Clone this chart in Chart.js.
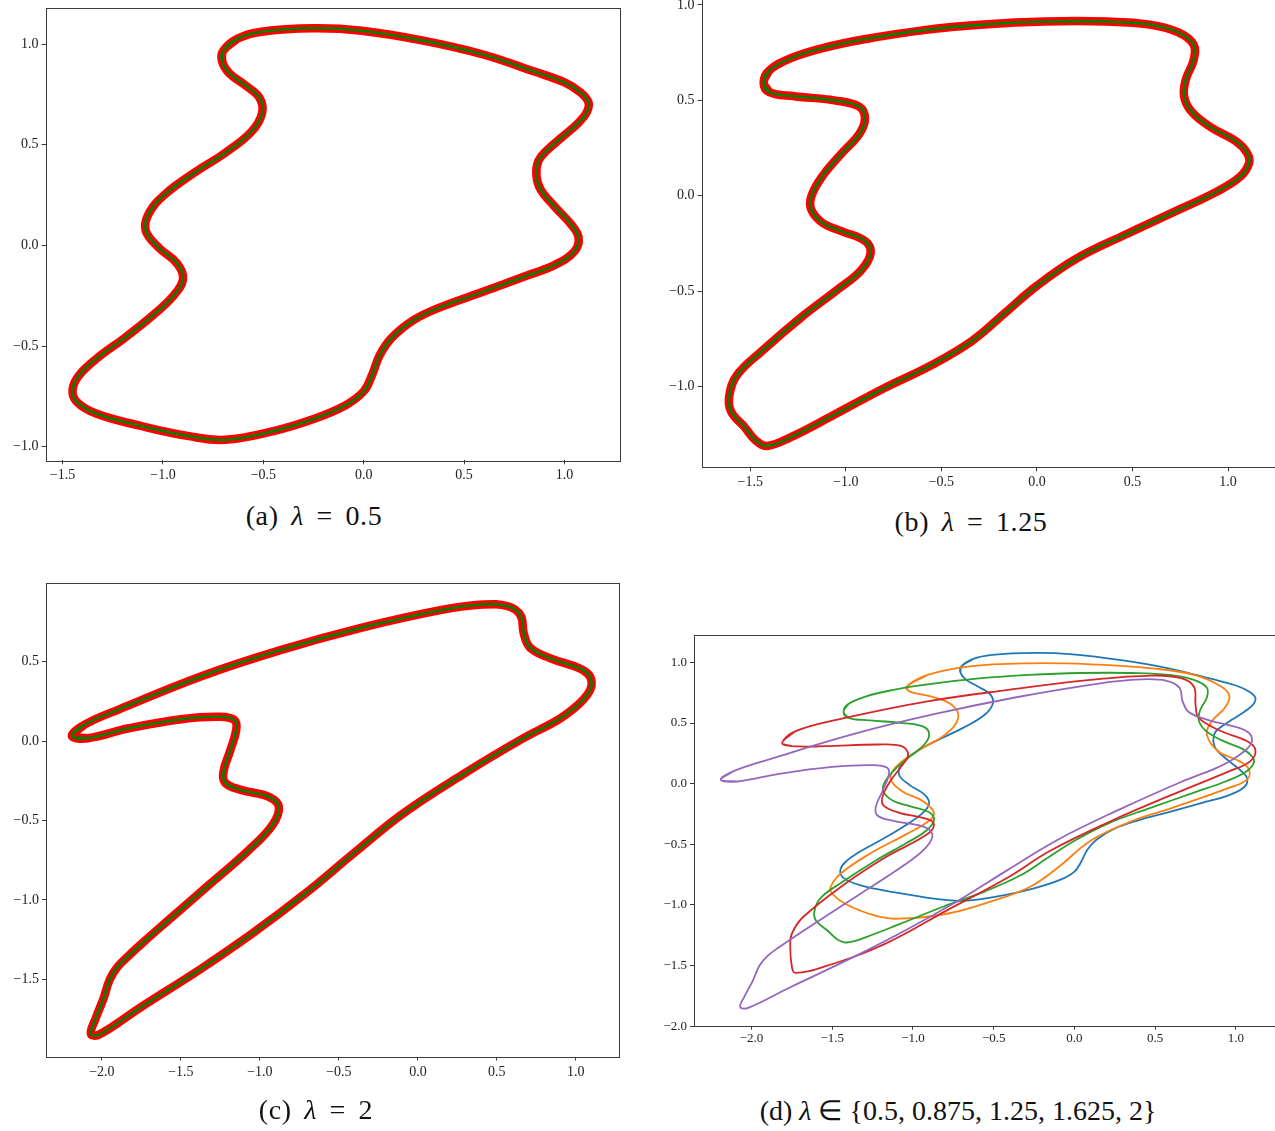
<!DOCTYPE html>
<html><head><meta charset="utf-8">
<script src="https://cdn.jsdelivr.net/npm/chart.js@4.4.1/dist/chart.umd.min.js"></script>
<style>
html,body{margin:0;padding:0;background:#fff;width:1275px;height:1131px;overflow:hidden;position:relative}
canvas{position:absolute}
.cap{position:absolute;font-family:'Liberation Serif',serif;font-size:28px;color:#111;white-space:nowrap;transform:translate(-50%,-50%)}
.w{word-spacing:5px;letter-spacing:0.6px}
</style></head><body>
<canvas id="ca" width="640" height="505" style="left:0px;top:-10px"></canvas>
<canvas id="cb" width="660" height="530" style="left:640px;top:-30px"></canvas>
<canvas id="cc" width="640" height="535" style="left:0px;top:560px"></canvas>
<canvas id="cd" width="660" height="450" style="left:640px;top:610px"></canvas>
<div class="cap w" style="left:314px;top:516px">(a) <i>λ</i> = 0.5</div>
<div class="cap w" style="left:971px;top:522px">(b) <i>λ</i> = 1.25</div>
<div class="cap w" style="left:316px;top:1110px">(c) <i>λ</i> = 2</div>
<div class="cap" style="left:958px;top:1110px">(d) <i>λ</i> ∈ {0.5, 0.875, 1.25, 1.625, 2}</div>
<script>
// ---- curve λ = 0.5 ----
const lam050_x = [-0.70,-0.63,-0.51,-0.25,-0.01,0.29,0.59,0.85,1.00,1.08,1.12,1.11,1.07,0.99,0.91,0.87,0.86,0.88,0.95,1.03,1.07,1.05,0.95,0.79,0.59,0.39,0.25,0.14,0.08,0.04,0.00,-0.09,-0.25,-0.45,-0.69,-0.87,-1.11,-1.33,-1.43,-1.45,-1.42,-1.33,-1.19,-1.05,-0.95,-0.90,-0.93,-1.02,-1.086,-1.07,-0.99,-0.85,-0.69,-0.56,-0.506,-0.52,-0.59,-0.67,-0.706];
const lam050_y = [0.967,1.027,1.062,1.079,1.067,1.019,0.950,0.864,0.81,0.76,0.71,0.66,0.61,0.54,0.47,0.42,0.35,0.280,0.194,0.108,0.040,-0.029,-0.098,-0.158,-0.232,-0.304,-0.37,-0.459,-0.545,-0.648,-0.725,-0.794,-0.863,-0.923,-0.966,-0.948,-0.897,-0.837,-0.777,-0.717,-0.648,-0.562,-0.459,-0.347,-0.253,-0.167,-0.089,-0.012,0.074,0.160,0.254,0.357,0.460,0.564,0.658,0.735,0.796,0.856,0.916];
// ---- curve λ = 0.875 ----
const lam0875_x = [-1.04,-0.91,-0.66,-0.28,0.10,0.48,0.74,0.91,0.96,0.93,0.85,0.82,0.89,1.02,1.08,1.07,0.96,0.61,0.36,0.10,-0.10,-0.28,-0.53,-0.79,-1.09,-1.24,-1.42,-1.50,-1.51,-1.45,-1.27,-1.04,-0.90,-0.87,-0.94,-1.07,-1.14,-1.09,-0.94,-0.80,-0.72,-0.76,-0.89,-1.02];
const lam0875_y = [0.80,0.897,0.966,0.993,0.985,0.952,0.897,0.80,0.72,0.624,0.514,0.405,0.268,0.186,0.118,0.036,-0.033,-0.197,-0.306,-0.47,-0.689,-0.854,-0.977,-1.073,-1.114,-1.086,-0.99,-0.908,-0.854,-0.744,-0.58,-0.416,-0.306,-0.238,-0.142,-0.06,0.049,0.159,0.295,0.405,0.542,0.651,0.72,0.76];
// ---- curve λ = 1.25 ----
const lam125_x = [-1.43,-1.40,-1.29,-1.12,-0.91,-0.59,-0.28,0.04,0.36,0.59,0.74,0.82,0.82,0.78,0.77,0.81,0.91,1.04,1.10,1.11,1.06,0.93,0.74,0.47,0.21,0.00,-0.17,-0.34,-0.55,-0.81,-1.08,-1.29,-1.41,-1.47,-1.53,-1.60,-1.61,-1.57,-1.44,-1.23,-1.04,-0.92,-0.87,-0.90,-1.02,-1.12,-1.18,-1.18,-1.12,-1.02,-0.93,-0.90,-0.93,-1.06,-1.27,-1.40];
const lam125_y = [0.594,0.657,0.720,0.774,0.819,0.868,0.897,0.913,0.913,0.897,0.856,0.792,0.711,0.612,0.522,0.440,0.359,0.287,0.224,0.170,0.097,0.016,-0.074,-0.200,-0.327,-0.471,-0.616,-0.760,-0.886,-1.013,-1.157,-1.265,-1.310,-1.283,-1.211,-1.130,-1.049,-0.940,-0.814,-0.634,-0.489,-0.390,-0.300,-0.236,-0.186,-0.143,-0.074,-0.002,0.106,0.224,0.323,0.404,0.467,0.500,0.522,0.543];
// ---- curve λ = 1.625 ----
const lam1625_x = [-1.81,-1.73,-1.42,-0.91,-0.41,0.10,0.48,0.66,0.74,0.75,0.77,0.91,1.07,1.12,1.09,0.96,0.61,0.23,-0.15,-0.41,-0.79,-1.17,-1.55,-1.73,-1.75,-1.76,-1.75,-1.68,-1.42,-1.17,-0.91,-0.87,-0.91,-1.09,-1.18,-1.19,-1.14,-1.07,-1.03,-1.07,-1.22,-1.55,-1.75];
const lam1625_y = [0.337,0.432,0.542,0.679,0.774,0.856,0.892,0.87,0.80,0.651,0.542,0.432,0.35,0.282,0.186,0.104,-0.088,-0.306,-0.553,-0.772,-1.045,-1.319,-1.51,-1.56,-1.51,-1.346,-1.237,-1.10,-0.826,-0.607,-0.416,-0.334,-0.293,-0.238,-0.183,-0.115,0.022,0.145,0.241,0.309,0.323,0.309,0.309];
// ---- curve λ = 2 ----
const lam200_x = [-2.19,-2.11,-1.88,-1.37,-0.87,-0.36,0.15,0.41,0.57,0.65,0.67,0.71,0.84,1.02,1.08,1.10,1.09,1.05,0.98,0.88,0.66,0.28,-0.10,-0.41,-0.71,-1.04,-1.37,-1.76,-2.02,-2.07,-2.04,-1.99,-1.95,-1.90,-1.83,-1.72,-1.58,-1.32,-1.07,-0.92,-0.88,-0.94,-1.12,-1.22,-1.23,-1.19,-1.15,-1.16,-1.25,-1.50,-1.83,-2.09];
const lam200_y = [0.032,0.104,0.205,0.409,0.573,0.713,0.826,0.860,0.849,0.792,0.679,0.589,0.521,0.460,0.42,0.37,0.32,0.265,0.20,0.13,0.014,-0.212,-0.460,-0.709,-0.957,-1.205,-1.431,-1.679,-1.849,-1.842,-1.747,-1.62,-1.50,-1.42,-1.35,-1.25,-1.128,-0.903,-0.686,-0.528,-0.415,-0.352,-0.307,-0.262,-0.190,-0.065,0.070,0.131,0.153,0.138,0.081,0.018];

// ---- tick labels ----
const ticksA_x = [-1.5,-1.0,-0.5,0.0,0.5,1.0];
const ticksA_y = [-1.0,-0.5,0.0,0.5,1.0];
const ticksB_x = [-1.5,-1.0,-0.5,0.0,0.5,1.0];
const ticksB_y = [-1.0,-0.5,0.0,0.5,1.0];
const ticksC_x = [-2.0,-1.5,-1.0,-0.5,0.0,0.5,1.0];
const ticksC_y = [-1.5,-1.0,-0.5,0.0,0.5];
const ticksD_x = [-2.0,-1.5,-1.0,-0.5,0.0,0.5,1.0];
const ticksD_y = [-2.0,-1.5,-1.0,-0.5,0.0,0.5,1.0];

function closed(xs, ys){
  const n = xs.length;
  const pts = [];
  pts.push({x: xs[n-1], y: ys[n-1]});
  for (let i = 0; i < n; i++) pts.push({x: xs[i], y: ys[i]});
  pts.push({x: xs[0], y: ys[0]});
  pts.push({x: xs[1], y: ys[1]});
  return pts;
}
function fmt(v){ return (v < 0 ? '\u2212' : '') + Math.abs(v).toFixed(1); }

const frame = {
  id: 'frame',
  afterDraw(chart){
    const a = chart.chartArea, c = chart.ctx;
    c.save(); c.strokeStyle = '#3a3a3a'; c.lineWidth = 1;
    c.strokeRect(Math.round(a.left)+0.5, Math.round(a.top)+0.5, Math.round(a.right-a.left), Math.round(a.bottom-a.top));
    c.restore();
  }
};

function axis(min, max, ticks, isY, size, fs, pad){
  return {
    type: 'linear', min: min, max: max,
    afterBuildTicks: ax => { ax.ticks = ticks.map(v => ({value: v})); },
    afterFit: ax => { if (isY) ax.width = size; else ax.height = size; },
    grid: {display: true, drawOnChartArea: false, drawTicks: true, tickLength: 4, color: '#3a3a3a'},
    border: {display: false},
    ticks: {color: '#222', padding: pad, font: {family: 'Liberation Serif', size: fs}, callback: v => fmt(v), maxRotation: 0, autoSkip: false}
  };
}

function make(id, datasets, xr, yr, xt, yt, g){
  new Chart(document.getElementById(id), {
    type: 'scatter',
    data: {datasets: datasets},
    options: {
      responsive: false, animation: false, devicePixelRatio: 1,
      layout: {padding: {top: g.top, right: g.right, left: 0, bottom: 0}},
      plugins: {legend: {display: false}, tooltip: {enabled: false}},
      elements: {point: {radius: 0, hoverRadius: 0}},
      scales: {
        x: axis(xr[0], xr[1], xt, false, g.xh, g.fs, g.px),
        y: axis(yr[0], yr[1], yt, true, g.yw, g.fs, 3)
      }
    },
    plugins: [frame]
  });
}
function pair(xs, ys){
  return [
    {data: closed(xs, ys), showLine: true, borderColor: '#008000', borderWidth: 2.6, tension: 0.4, pointRadius: 0, order: 0},
    {data: closed(xs, ys), showLine: true, borderColor: '#ff0000', borderWidth: 8.5, tension: 0.4, pointRadius: 0, order: 1}
  ];
}
function thin(xs, ys, col, ord){
  return {data: closed(xs, ys), showLine: true, borderColor: col, borderWidth: 1.8, tension: 0.4, pointRadius: 0, order: ord};
}

make('ca', pair(lam050_x, lam050_y), [-1.585, 1.273], [-1.068, 1.182], ticksA_x, ticksA_y, {top: 17.6, right: 20.7, yw: 45.5, xh: 34.7, fs: 14, px: 3});
make('cb', pair(lam125_x, lam125_y), [-1.755, 1.25], [-1.422, 1.031], ticksB_x, ticksB_y, {top: 29, right: 24.2, yw: 61.5, xh: 32.7, fs: 14, px: 3});
make('cc', pair(lam200_x, lam200_y), [-2.354, 1.275], [-1.9855, 0.9955], ticksC_x, ticksC_y, {top: 23, right: 20.7, yw: 46, xh: 38.5, fs: 14, px: 3});
make('cd', [
  thin(lam050_x, lam050_y, '#1f77b4', 5),
  thin(lam0875_x, lam0875_y, '#ff7f0e', 4),
  thin(lam125_x, lam125_y, '#2ca02c', 3),
  thin(lam1625_x, lam1625_y, '#d62728', 2),
  thin(lam200_x, lam200_y, '#9467bd', 1)
], [-2.356, 1.31], [-1.9965, 1.2265], ticksD_x, ticksD_y, {top: 25, right: 14, yw: 54, xh: 34.3, fs: 13, px: 1});
</script>
</body></html>
